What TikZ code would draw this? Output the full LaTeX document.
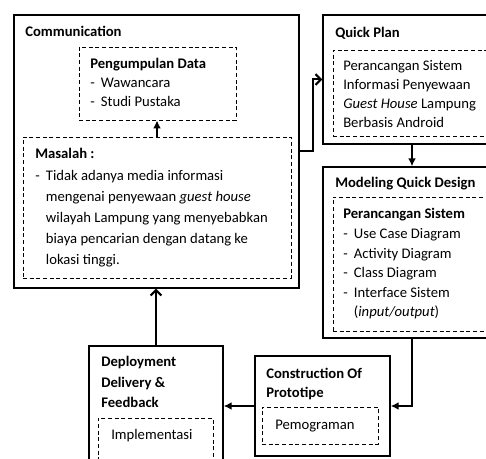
\documentclass[tikz,border=0pt]{standalone}
\usepackage{fontspec}
\setmainfont{Carlito}
\usetikzlibrary{arrows.meta,fit}
\tikzset{
  phase/.style={draw, line width=1.1pt, inner sep=0pt},
  part/.style={draw, line width=0.7pt, dash pattern=on 3pt off 2pt, inner sep=0pt},
  txt/.style={anchor=base west, align=left, inner sep=0pt, font=\fontsize{11}{14.6}\selectfont},
  title/.style={txt, font=\fontsize{11}{14.6}\selectfont\bfseries},
  flow/.style={line width=1.5pt, -{Latex[length=6pt,width=6pt]}},
  back/.style={line width=1.5pt, -{Straight Barb[length=4pt,width=8pt]}}
}
\newcommand{\dashitem}[1]{\makebox[8pt][l]{-}#1}
\begin{document}
\begin{tikzpicture}[x=0.75pt,y=-0.75pt]
  \useasboundingbox (0,0) rectangle (486,459);
  \clip (0,0) rectangle (486,459);
  % phases
  \node[phase, fit={(14,15) (299,288)}] (comm) {};
  \node[part, fit={(79,47) (236,120)}] (pengumpulan) {};
  \node[part, fit={(23,137) (291,278)}] (masalah) {};
  \node[phase, fit={(323,15) (501,144)}] (qplan) {};
  \node[part, fit={(333,50) (491,136)}] (qplanbox) {};
  \node[phase, fit={(323,167) (501,338)}] (model) {};
  \node[part, fit={(333,197) (491,331)}] (modelbox) {};
  \node[phase, fit={(255,356) (390,456)}] (cons) {};
  \node[part, fit={(262,407) (378,444)}] (consbox) {};
  \node[phase, fit={(89,346) (223,475)}] (deploy) {};
  \node[part, fit={(98,418) (213,462)}] (deploybox) {};
  % texts (multi-line nodes sit on their last baseline)
  \node[title] (commtitle) at (25,37) {Communication};
  \node[txt] (pengumpulantext) at (90,107)
    {\textbf{Pengumpulan Data}\\\dashitem{Wawancara}\\\dashitem{Studi Pustaka}};
  \node[txt, font=\fontsize{11}{15.9}\selectfont] (masalahtext) at (35,265)
    {\textbf{Masalah :}\\\dashitem{Tidak adanya media informasi}\\
     \hspace*{8pt}mengenai penyewaan \textit{guest house}\\
     \hspace*{8pt}wilayah Lampung yang menyebabkan\\
     \hspace*{8pt}biaya pencarian dengan datang ke\\
     \hspace*{8pt}lokasi tinggi.};
  \node[title] (qplantitle) at (335,38) {Quick Plan};
  \node[txt, font=\fontsize{11}{14.3}\selectfont] (qplantext) at (343,128)
    {Perancangan Sistem\\Informasi Penyewaan\\\textit{Guest House} Lampung\\Berbasis Android};
  \node[title] (modeltitle) at (335,188) {Modeling Quick Design};
  \node[txt, font=\fontsize{11}{14.7}\selectfont] (modeltext) at (343,317)
    {\textbf{Perancangan Sistem}\\\dashitem{Use Case Diagram}\\\dashitem{Activity Diagram}\\
     \dashitem{Class Diagram}\\\dashitem{Interface Sistem}\\\hspace*{8pt}(\textit{input/output})};
  \node[title, font=\fontsize{11}{14.3}\selectfont\bfseries] (constitle) at (266,398)
    {Construction Of\\Prototipe};
  \node[txt] (constext) at (275,430) {Pemograman};
  \node[title, font=\fontsize{11}{15.4}\selectfont\bfseries] (deploytitle) at (101,408)
    {Deployment\\Delivery \&\\Feedback};
  \node[txt] (deploytext) at (111,440) {Implementasi};
  % connectors
  \draw[flow] (masalah.north) -- (masalah.north |- pengumpulan.south);
  \draw[back] (comm.east) -- ++(13,0) |- (qplan.west);
  \draw[flow] (qplan.south) -- (model.north);
  \draw[flow] (model.south) |- (cons.east);
  \draw[flow] (cons.west) -- (cons.west -| deploy.east);
  \draw[back] (deploy.north) -- (deploy.north |- comm.south);
\end{tikzpicture}
\end{document}
